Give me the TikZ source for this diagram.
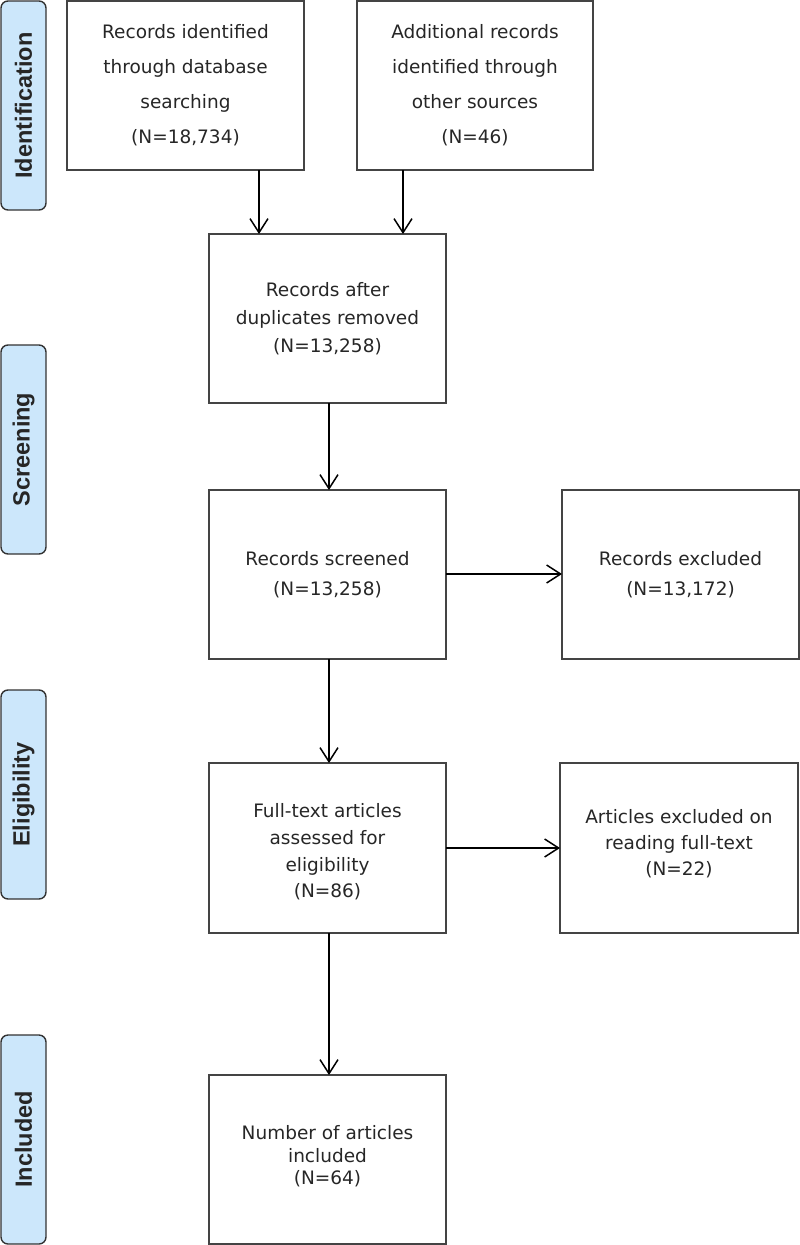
\documentclass[tikz,border=0pt]{standalone}
\usepackage{fontspec}
\setmainfont{DejaVu Sans}
\newfontfamily\labfont{Liberation Sans}
\usetikzlibrary{arrows.meta}
\definecolor{boxgray}{HTML}{444444}
\definecolor{txtgray}{HTML}{262626}
\definecolor{labblue}{HTML}{CCE7FB}
\definecolor{labline}{HTML}{333333}
\tikzset{
  box/.style={draw=boxgray, line width=1.4pt, minimum width=237pt, minimum height=169pt,
    align=center, text=txtgray, inner sep=0pt, outer sep=0pt},
  sp/.style={font=\fontsize{18.5}{#1}\selectfont},
  phase/.style={draw=labline, fill=labblue, line width=1.4pt, rounded corners=7pt,
    minimum width=45pt, minimum height=209pt, inner sep=0pt,
    font=\labfont\bfseries\fontsize{23.5}{26}\selectfont, text=black!85},
  arr/.style={draw=black, line width=1.5pt, -{Straight Barb[length=14pt,width=18pt,line width=1.5pt]}}
}
\begin{document}
\begin{tikzpicture}[x=1pt,y=-1pt]
\useasboundingbox (0,0) rectangle (800,1245);
% phase labels
\node[phase] (pid) at (23.5,105.5) {\rotatebox{90}{Identification}};
\node[phase] (psc) at (23.5,449.5) {\rotatebox{90}{Screening}};
\node[phase] (pel) at (23.5,794.5) {\rotatebox{90}{Eligibility}};
\node[phase] (pin) at (23.5,1139.5) {\rotatebox{90}{Included}};
% boxes
\node[box, sp=35] (A) at (185.5,85.5) {Records identified\\through database\\searching\\(N=18,734)};
\node[box, sp=35, minimum width=236pt] (B) at (475,85.5) {Additional records\\identified through\\other sources\\(N=46)};
\node[box, sp=28] (C) at (327.5,318.5) {Records after\\duplicates removed\\(N=13,258)};
\node[box, sp=30] (D) at (327.5,574.5) {Records screened\\(N=13,258)};
\node[box, sp=30] (E) at (680.5,574.5) {Records excluded\\(N=13,172)};
\node[box, sp=26.7, minimum height=170pt] (F) at (327.5,848) {\rule{0pt}{22pt}Full-text articles\\assessed for\\eligibility\\(N=86)};
\node[box, sp=26, minimum width=238pt, minimum height=170pt] (G) at (679,848) {Articles excluded on\\reading full-text\\(N=22)\\[-14pt]};
\node[box, sp=22.5] (H) at (327.5,1159.5) {Number of articles\\included\\(N=64)\\[-14pt]};
% connectors
\draw[arr] (259,0 |- A.south) -- (259,0 |- C.north);
\draw[arr] (403,0 |- B.south) -- (403,0 |- C.north);
\draw[arr] (329,0 |- C.south) -- (329,0 |- D.north);
\draw[arr] (D.east |- 0,574) -- (E.west |- 0,574);
\draw[arr] (329,0 |- D.south) -- (329,0 |- F.north);
\draw[arr] (F.east) -- (G.west);
\draw[arr] (329,0 |- F.south) -- (329,0 |- H.north);
\end{tikzpicture}
\end{document}
